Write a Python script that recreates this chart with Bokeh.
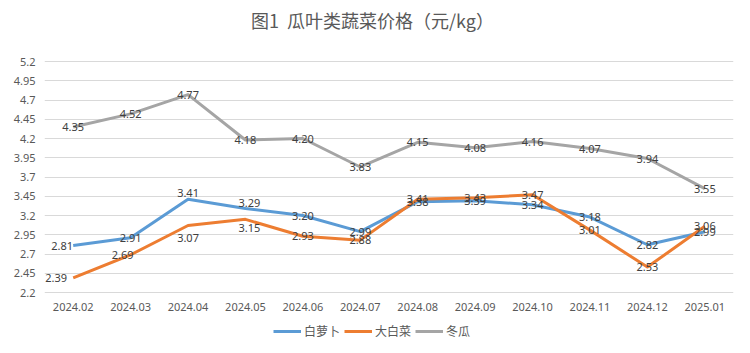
from bokeh.plotting import figure
from bokeh.models import (FactorRange, Range1d, FixedTicker, Legend, LegendItem, Label,
                          ColumnDataSource, CustomJSTickFormatter)
from bokeh.embed import file_html
from bokeh.resources import INLINE
from bokeh.core.properties import value

# ---- data ----
months = ["2024.02", "2024.03", "2024.04", "2024.05", "2024.06", "2024.07",
          "2024.08", "2024.09", "2024.10", "2024.11", "2024.12", "2025.01"]
radish = [2.81, 2.91, 3.41, 3.29, 3.20, 2.99, 3.38, 3.39, 3.34, 3.18, 2.82, 2.99]
cabbage = [2.39, 2.69, 3.07, 3.15, 2.93, 2.88, 3.41, 3.43, 3.47, 3.01, 2.53, 3.06]
melon = [4.35, 4.52, 4.77, 4.18, 4.20, 3.83, 4.15, 4.08, 4.16, 4.07, 3.94, 3.55]
series_names = ["白萝卜", "大白菜", "冬瓜"]
y_ticks = [2.2, 2.45, 2.7, 2.95, 3.2, 3.45, 3.7, 3.95, 4.2, 4.45, 4.7, 4.95, 5.2]
y_tick_labels = ["2.2", "2.45", "2.7", "2.95", "3.2", "3.45", "3.7", "3.95",
                 "4.2", "4.45", "4.7", "4.95", "5.2"]
title_text = "图1\u00a0\u00a0瓜叶类蔬菜价格（元/kg）"

# ---- style ----
colors = ["#5B9BD5", "#ED7D31", "#A5A5A5"]
# label nudges in pixels (style only)
label_dx = [[-11, 0, 0, 4, 0, 0, 0, 0, 0, 0, 0, 0],
            [-17, -8, 0, 4, 0, 0, 0, 0, 0, 0, 0, 0],
            [0] * 12]
label_dy = [[0, 0, -6, -6, 0, 0, 0, 0, 0, 0, 0, 0],
            [0, 0, 12, 9, 0, 0, 0, 0, 0, 0, 0, 0],
            [0] * 12]

H = 353
PX_PER_UNIT = 77.0
y_top = 5.2 + 61 / PX_PER_UNIT
y_bottom = y_top - H / PX_PER_UNIT

p = figure(width=750, height=H,
           x_range=FactorRange(*months, range_padding=0),
           y_range=Range1d(y_bottom, y_top),
           output_backend="svg", toolbar_location=None,
           min_border_left=44, min_border_right=17,
           min_border_top=0, min_border_bottom=0)
p.outline_line_color = None
p.background_fill_color = "white"
p.border_fill_color = "white"

p.xgrid.grid_line_color = None
p.ygrid.grid_line_color = "#D9D9D9"
p.ygrid.grid_line_width = 1
p.ygrid.ticker = FixedTicker(ticks=y_ticks)

p.yaxis.ticker = FixedTicker(ticks=y_ticks)
p.yaxis.formatter = CustomJSTickFormatter(
    args=dict(vals=y_ticks, labs=y_tick_labels),
    code="""
    let best = 0, bd = 1e9;
    for (let i = 0; i < vals.length; i++) {
        const d = Math.abs(vals[i] - tick);
        if (d < bd) { bd = d; best = i; }
    }
    return labs[best];
    """)
for ax in (p.xaxis[0], p.yaxis[0]):
    ax.axis_line_color = None
    ax.major_tick_line_color = None
    ax.minor_tick_line_color = None
    ax.major_tick_out = 0
    ax.major_tick_in = 0
    ax.minor_tick_out = 0
    ax.major_label_text_font = "Noto Sans"
    ax.major_label_text_font_size = "11px"
    ax.major_label_text_color = "#595959"
p.xaxis.fixed_location = y_ticks[0]
p.xaxis.major_label_standoff = 10
p.yaxis.major_label_standoff = 9

renderers = []
all_series = [radish, cabbage, melon]
for vals, c in zip(all_series, colors):
    r = p.line(x=months, y=vals, line_color=c, line_width=3, line_join="round")
    renderers.append(r)

for vals, dx, dy in zip(all_series, label_dx, label_dy):
    src = ColumnDataSource(dict(x=months, y=vals, t=[f"{v:.2f}" for v in vals], dx=dx, dy=dy))
    p.text(x="x", y="y", text="t", source=src, x_offset="dx", y_offset="dy",
           text_font=value("Noto Sans"), text_font_size="11px", text_color="#404040",
           text_align="center", text_baseline="middle")

title = Label(x=328, y=H - 19, x_units="screen", y_units="screen", text=title_text,
              text_font="Noto Sans CJK SC", text_font_size="18px", text_color="#595959",
              text_align="center", text_baseline="middle")
p.add_layout(title)

legend = Legend(items=[LegendItem(label=n, renderers=[r]) for n, r in zip(series_names, renderers)],
                orientation="horizontal", location=(229, 14),
                border_line_color=None, background_fill_alpha=0,
                label_text_font="Noto Sans CJK SC", label_text_font_size="12px",
                label_text_color="#595959", glyph_width=28, glyph_height=14,
                label_height=14, label_standoff=3, spacing=4, padding=2, margin=0)
p.add_layout(legend, "center")

open("out.html", "w").write(file_html(p, INLINE))
